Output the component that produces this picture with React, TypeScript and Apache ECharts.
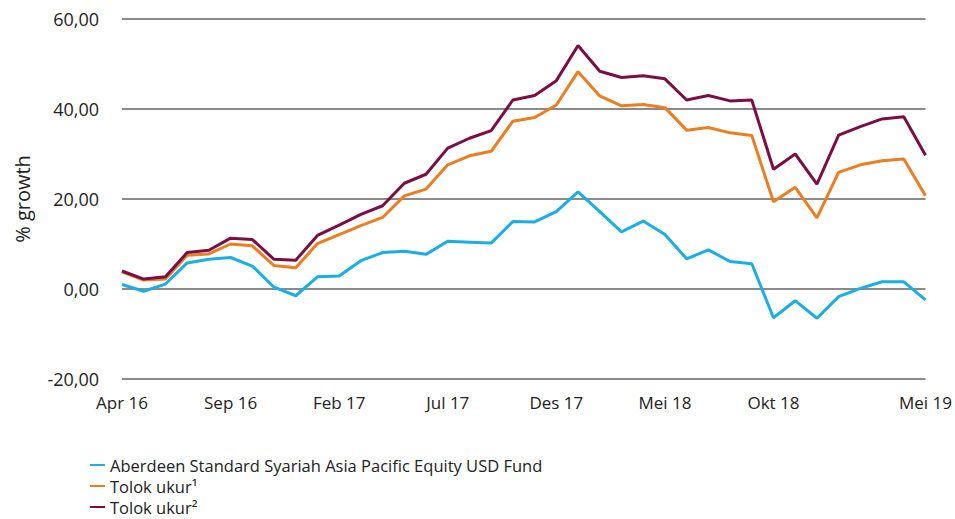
import React, { useEffect, useRef } from "react";
import * as echarts from "echarts";

const months = ["Jan", "Feb", "Mar", "Apr", "Mei", "Jun", "Jul", "Agu", "Sep", "Okt", "Nov", "Des"];
const categories: string[] = [];
for (let i = 0; i < 38; i++) {
  const m = (3 + i) % 12;
  const y = 16 + Math.floor((3 + i) / 12);
  categories.push(`${months[m]} ${y}`);
}

const fundName = "Aberdeen Standard Syariah Asia Pacific Equity USD Fund";
const bench1Name = "Tolok ukur¹";
const bench2Name = "Tolok ukur²";

const fund = [
  1.0, -0.5, 1.1, 5.8, 6.6, 7.0, 5.1, 0.4, -1.5, 2.7, 2.9, 6.3, 8.1, 8.4, 7.7, 10.6, 10.4, 10.2, 15.0,
  14.9, 17.2, 21.6, 17.2, 12.7, 15.1, 12.1, 6.7, 8.7, 6.1, 5.6, -6.4, -2.6, -6.5, -1.7, 0.15, 1.6, 1.6, -2.4,
];
const bench1 = [
  3.8, 2.0, 2.2, 7.5, 7.8, 10.0, 9.6, 5.2, 4.7, 10.1, 12.1, 14.1, 15.9, 20.7, 22.2, 27.6, 29.6, 30.6, 37.3,
  38.1, 40.9, 48.3, 42.9, 40.7, 41.0, 40.3, 35.3, 35.9, 34.7, 34.1, 19.4, 22.6, 15.8, 25.9, 27.6, 28.5, 28.9, 20.7,
];
const bench2 = [
  4.0, 2.2, 2.7, 8.1, 8.6, 11.3, 11.0, 6.6, 6.4, 11.9, 14.2, 16.6, 18.5, 23.5, 25.5, 31.3, 33.5, 35.2, 42.0,
  43.0, 46.3, 54.1, 48.4, 47.0, 47.4, 46.7, 42.0, 43.0, 41.8, 42.0, 26.6, 30.0, 23.3, 34.2, 36.1, 37.8, 38.3, 29.7,
];

const FONT = "'Open Sans', 'Noto Sans', sans-serif";

export default function App() {
  const ref = useRef<HTMLDivElement>(null);
  useEffect(() => {
    if (!ref.current) return;
    const chart = echarts.init(ref.current, undefined, { renderer: "svg" });
    const mk = (name: string, data: number[], color: string) => ({
      name,
      type: "line",
      data,
      symbol: "none",
      lineStyle: { color, width: 3 },
      itemStyle: { color },
    });
    const lg = (name: string, top: number) => ({
      orient: "vertical",
      left: 90,
      top,
      padding: 0,
      icon: "rect",
      itemWidth: 15,
      itemHeight: 2,
      itemGap: 0,
      textStyle: { fontSize: 16.5, color: "#222", fontFamily: FONT, lineHeight: 18 },
      data: [name],
    });
    chart.setOption({
      animation: false,
      backgroundColor: "#ffffff",
      textStyle: { fontFamily: FONT },
      grid: { left: 122, right: 28, top: 19, bottom: 140 },
      legend: [lg(fundName, 456), lg(bench1Name, 477), lg(bench2Name, 498)],
      xAxis: {
        type: "category",
        data: categories,
        boundaryGap: false,
        axisLine: { show: false },
        axisTick: { show: false },
        axisLabel: {
          interval: (i: number) => (i % 5 === 0 && i !== 35) || i === 37,
          fontSize: 17,
          color: "#222",
          margin: 15,
          fontFamily: FONT,
        },
      },
      yAxis: {
        type: "value",
        min: -20,
        max: 60,
        interval: 20,
        name: "% growth",
        nameLocation: "middle",
        nameGap: 90,
        nameTextStyle: { fontSize: 20, color: "#222", fontFamily: FONT },
        axisLine: { show: false },
        axisTick: { show: false },
        axisLabel: {
          formatter: (v: number) => v.toFixed(2).replace(".", ","),
          fontSize: 18,
          color: "#222",
          margin: 23,
          fontFamily: FONT,
        },
        splitLine: { lineStyle: { color: "#8a8a8a", width: 2 } },
      },
      series: [mk(fundName, fund, "#1aaee5"), mk(bench1Name, bench1, "#ec7d22"), mk(bench2Name, bench2, "#790f44")],
    });
    return () => chart.dispose();
  }, []);
  return <div ref={ref} style={{ width: 955, height: 519, position: "absolute", left: 0, top: 0 }} />;
}
